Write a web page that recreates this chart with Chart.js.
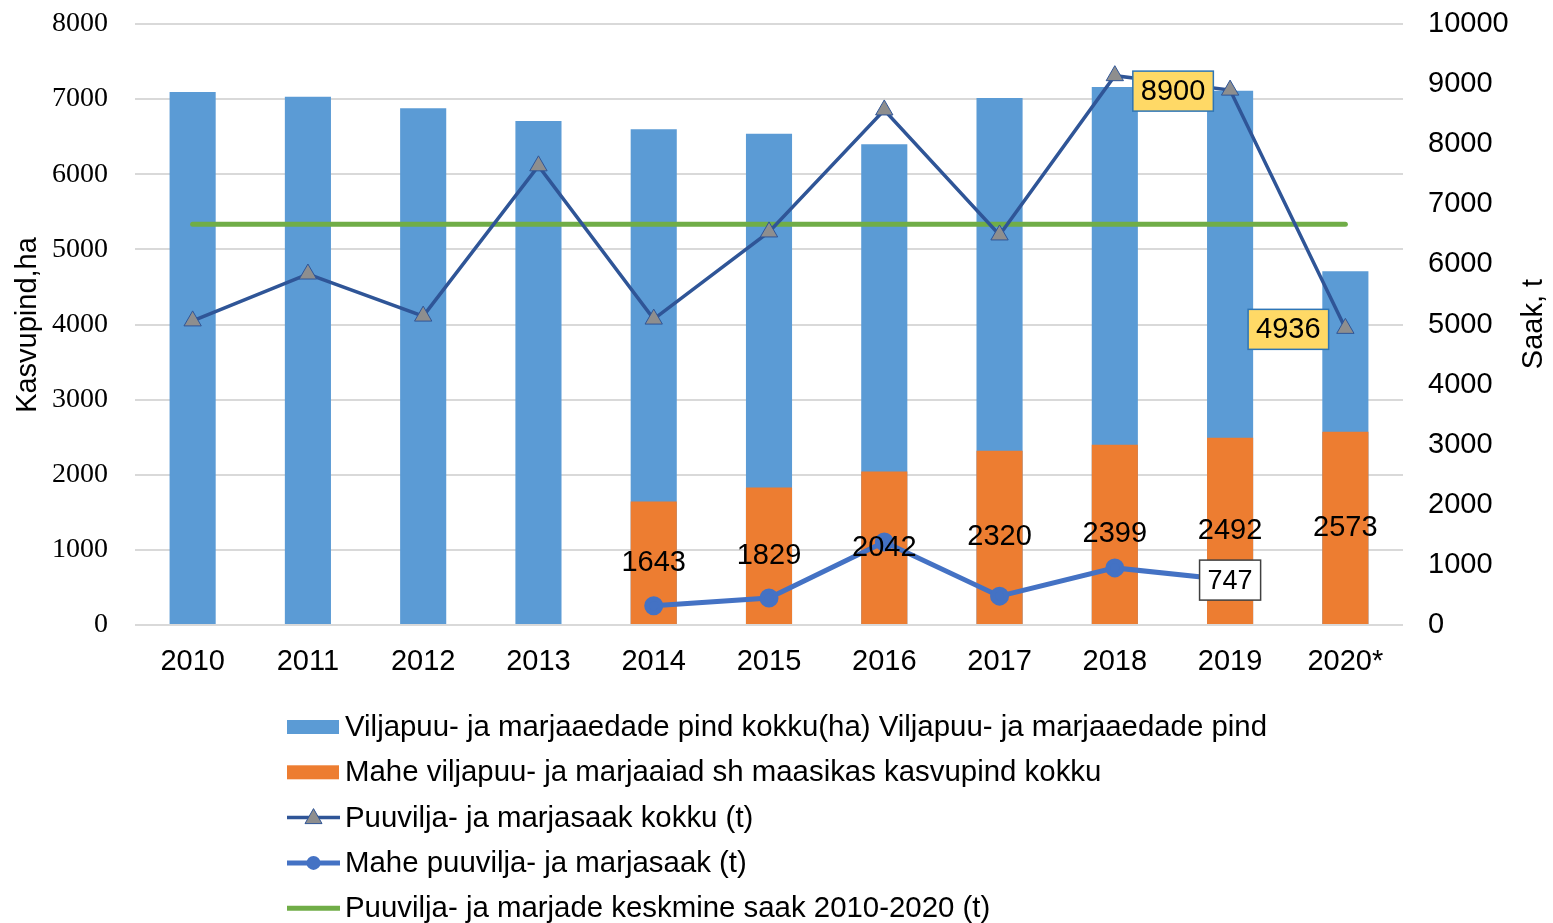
<!DOCTYPE html>
<html>
<head>
<meta charset="utf-8">
<script src="https://cdn.jsdelivr.net/npm/chart.js@4.4.1/dist/chart.umd.min.js"></script>
<style>
    html, body { margin: 0; padding: 0; background: #fff; }
    #wrap { position: relative; width: 1553px; height: 923px; }
</style>
</head>
<body>
<div id="wrap"><canvas id="chart" width="1553" height="923"></canvas></div>
<script>
// Chart data
const years = ['2010', '2011', '2012', '2013', '2014', '2015', '2016', '2017', '2018', '2019', '2020*'];
const totalArea = [7095, 7030, 6880, 6710, 6600, 6540, 6400, 7015, 7160, 7110, 4710];
const organicArea = [null, null, null, null, 1643, 1829, 2042, 2320, 2399, 2492, 2573];
const totalHarvest = [5060, 5840, 5140, 7640, 5090, 6540, 8570, 6490, 9140, 8900, 4936];
const organicHarvest = [null, null, null, null, 320, 450, 1380, 480, 950, 747, null];
const averageHarvest = [6670, 6670, 6670, 6670, 6670, 6670, 6670, 6670, 6670, 6670, 6670];
const leftTicks = [0, 1000, 2000, 3000, 4000, 5000, 6000, 7000, 8000];
const rightTicks = [0, 1000, 2000, 3000, 4000, 5000, 6000, 7000, 8000, 9000, 10000];

// Which points carry a boxed label
const boxedTotalYears = ['2019', '2020*'];
const boxedOrganicYears = ['2019'];

const seriesNames = [
    'Viljapuu- ja marjaaedade pind kokku(ha) Viljapuu- ja marjaaedade pind',
    'Mahe viljapuu- ja marjaaiad sh maasikas kasvupind kokku',
    'Puuvilja- ja marjasaak kokku (t)',
    'Mahe puuvilja- ja marjasaak (t)',
    'Puuvilja- ja marjade keskmine saak 2010-2020 (t)'
];

const SANS = '"Liberation Sans", Arial, sans-serif';
const SERIF = '"Liberation Serif", "Times New Roman", serif';

const COLORS = {
    area: '#5B9BD5',
    organicArea: '#ED7D31',
    harvest: '#2F5597',
    harvestMarker: '#8E8E8E',
    organicHarvest: '#4472C4',
    average: '#70AD47'
};

// Draw a label box (fill + border) with centered text
function drawBox(ctx, text, cx, cy, fill, border) {
    const w = ctx.measureText(text).width + 16;
    const h = 40;
    ctx.fillStyle = fill;
    ctx.fillRect(cx - w / 2, cy - h / 2, w, h);
    ctx.strokeStyle = border;
    ctx.lineWidth = 1.5;
    ctx.strokeRect(cx - w / 2, cy - h / 2, w, h);
    ctx.fillStyle = '#000';
    ctx.fillText(text, cx, cy + 1);
}

// Data labels on bars and lines
const dataLabels = {
    id: 'dataLabels',
    afterDatasetsDraw(chart) {
        const ctx = chart.ctx;
        ctx.save();
        ctx.font = '29px ' + SANS;
        ctx.textAlign = 'center';
        ctx.textBaseline = 'middle';
        ctx.fillStyle = '#000';

        // organic area values in the middle of the orange bars
        chart.getDatasetMeta(1).data.forEach((bar, i) => {
            if (organicArea[i] == null) return;
            ctx.fillText(String(organicArea[i]), bar.x, (bar.y + bar.base) / 2);
        });

        // total harvest: yellow boxes left of the point
        chart.getDatasetMeta(2).data.forEach((pt, i) => {
            if (!boxedTotalYears.includes(years[i])) return;
            drawBox(ctx, String(totalHarvest[i]), pt.x - 57, pt.y + 1, '#FFD966', '#2E75B6');
        });

        // organic harvest: white box on the point
        ctx.font = '27px ' + SANS;
        chart.getDatasetMeta(3).data.forEach((pt, i) => {
            if (!boxedOrganicYears.includes(years[i])) return;
            drawBox(ctx, String(organicHarvest[i]), pt.x, pt.y, '#FFFFFF', '#404040');
        });
        ctx.restore();
    }
};

// Axis titles and the legend list under the plot
const extras = {
    id: 'extras',
    afterDraw(chart) {
        const ctx = chart.ctx;
        ctx.save();
        ctx.font = '29px ' + SANS;
        ctx.fillStyle = '#000';
        ctx.textAlign = 'center';
        ctx.textBaseline = 'middle';

        ctx.save();
        ctx.translate(28, 325);
        ctx.rotate(-Math.PI / 2);
        ctx.fillText('Kasvupind,ha', 0, 0);
        ctx.restore();

        ctx.save();
        ctx.translate(1534, 324);
        ctx.rotate(-Math.PI / 2);
        ctx.fillText('Saak, t', 0, 0);
        ctx.restore();

        // legend
        const x0 = 287, x1 = 340, y0 = 727, step = 45.3;
        ctx.font = '29.4px ' + SANS;
        ctx.textAlign = 'left';
        seriesNames.forEach((name, i) => {
            const y = y0 + i * step;
            const mid = (x0 + x1) / 2;
            if (i === 0 || i === 1) {
                ctx.fillStyle = i === 0 ? COLORS.area : COLORS.organicArea;
                ctx.fillRect(x0, y - 7, 52, 14);
            } else if (i === 2) {
                ctx.strokeStyle = COLORS.harvest;
                ctx.lineWidth = 3.5;
                ctx.beginPath(); ctx.moveTo(x0, y); ctx.lineTo(x1, y); ctx.stroke();
                ctx.fillStyle = COLORS.harvestMarker;
                ctx.lineWidth = 1;
                ctx.beginPath();
                ctx.moveTo(mid, y - 9); ctx.lineTo(mid + 8.5, y + 6); ctx.lineTo(mid - 8.5, y + 6);
                ctx.closePath(); ctx.fill(); ctx.stroke();
            } else if (i === 3) {
                ctx.strokeStyle = COLORS.organicHarvest;
                ctx.lineWidth = 5;
                ctx.beginPath(); ctx.moveTo(x0, y); ctx.lineTo(x1, y); ctx.stroke();
                ctx.fillStyle = COLORS.organicHarvest;
                ctx.beginPath(); ctx.arc(mid, y, 7, 0, Math.PI * 2); ctx.fill();
            } else {
                ctx.strokeStyle = COLORS.average;
                ctx.lineWidth = 5;
                ctx.beginPath(); ctx.moveTo(x0, y); ctx.lineTo(x1, y); ctx.stroke();
            }
            ctx.fillStyle = '#000';
            ctx.fillText(name, 345, y + 1);
        });
        ctx.restore();
    }
};

// fixed axis sizes, no extra padding from tick labels
function fixVertical(width) {
    return scale => {
        scale.width = width;
        scale.paddingTop = 0;
        scale.paddingBottom = 0;
    };
}

function renderChart() {
    const canvas = document.getElementById('chart');
    new Chart(canvas, {
        data: {
            labels: years,
            datasets: [
                {
                    type: 'bar',
                    label: seriesNames[0],
                    data: totalArea,
                    backgroundColor: COLORS.area,
                    yAxisID: 'y',
                    grouped: false,
                    barPercentage: 0.8,
                    categoryPercentage: 0.5,
                    order: 4
                },
                {
                    type: 'bar',
                    label: seriesNames[1],
                    data: organicArea,
                    backgroundColor: COLORS.organicArea,
                    yAxisID: 'y',
                    grouped: false,
                    barPercentage: 0.8,
                    categoryPercentage: 0.5,
                    order: 3
                },
                {
                    type: 'line',
                    label: seriesNames[2],
                    data: totalHarvest,
                    yAxisID: 'y2',
                    borderColor: COLORS.harvest,
                    borderWidth: 3.5,
                    pointStyle: 'triangle',
                    pointRadius: 10,
                    pointBackgroundColor: COLORS.harvestMarker,
                    pointBorderColor: COLORS.harvest,
                    pointBorderWidth: 1,
                    tension: 0,
                    order: 0
                },
                {
                    type: 'line',
                    label: seriesNames[3],
                    data: organicHarvest,
                    yAxisID: 'y2',
                    borderColor: COLORS.organicHarvest,
                    borderWidth: 5,
                    pointStyle: 'circle',
                    pointRadius: 7,
                    pointBackgroundColor: COLORS.organicHarvest,
                    pointBorderColor: COLORS.organicHarvest,
                    tension: 0,
                    order: 1
                },
                {
                    type: 'line',
                    label: seriesNames[4],
                    data: averageHarvest,
                    yAxisID: 'y2',
                    borderColor: COLORS.average,
                    borderWidth: 5,
                    borderCapStyle: 'round',
                    pointRadius: 0,
                    tension: 0,
                    order: 2
                }
            ]
        },
        options: {
            responsive: false,
            animation: false,
            layout: { padding: { top: 24, bottom: 228, left: 0, right: 0 } },
            plugins: {
                legend: { display: false },
                tooltip: { enabled: false }
            },
            scales: {
                x: {
                    offset: true,
                    grid: { display: false },
                    border: { display: false },
                    ticks: { color: '#000', font: { family: SANS, size: 29 }, padding: 12, maxRotation: 0 },
                    afterFit: scale => { scale.height = 70; }
                },
                y: {
                    position: 'left',
                    min: 0,
                    max: 8000,
                    afterBuildTicks: scale => { scale.ticks = leftTicks.map(v => ({ value: v })); },
                    grid: { color: '#D9D9D9', lineWidth: 2, drawTicks: false },
                    border: { display: false },
                    ticks: { color: '#000', font: { family: SERIF, size: 28 }, padding: 27, callback: v => String(v) },
                    afterFit: fixVertical(135)
                },
                y2: {
                    position: 'right',
                    min: 0,
                    max: 10000,
                    afterBuildTicks: scale => { scale.ticks = rightTicks.map(v => ({ value: v })); },
                    grid: { display: false, drawTicks: false },
                    border: { display: false },
                    ticks: { color: '#000', font: { family: SANS, size: 29 }, padding: 25, callback: v => String(v) },
                    afterFit: fixVertical(150)
                }
            }
        },
        plugins: [dataLabels, extras]
    });
}

document.addEventListener('DOMContentLoaded', renderChart);
</script>
</body>
</html>
